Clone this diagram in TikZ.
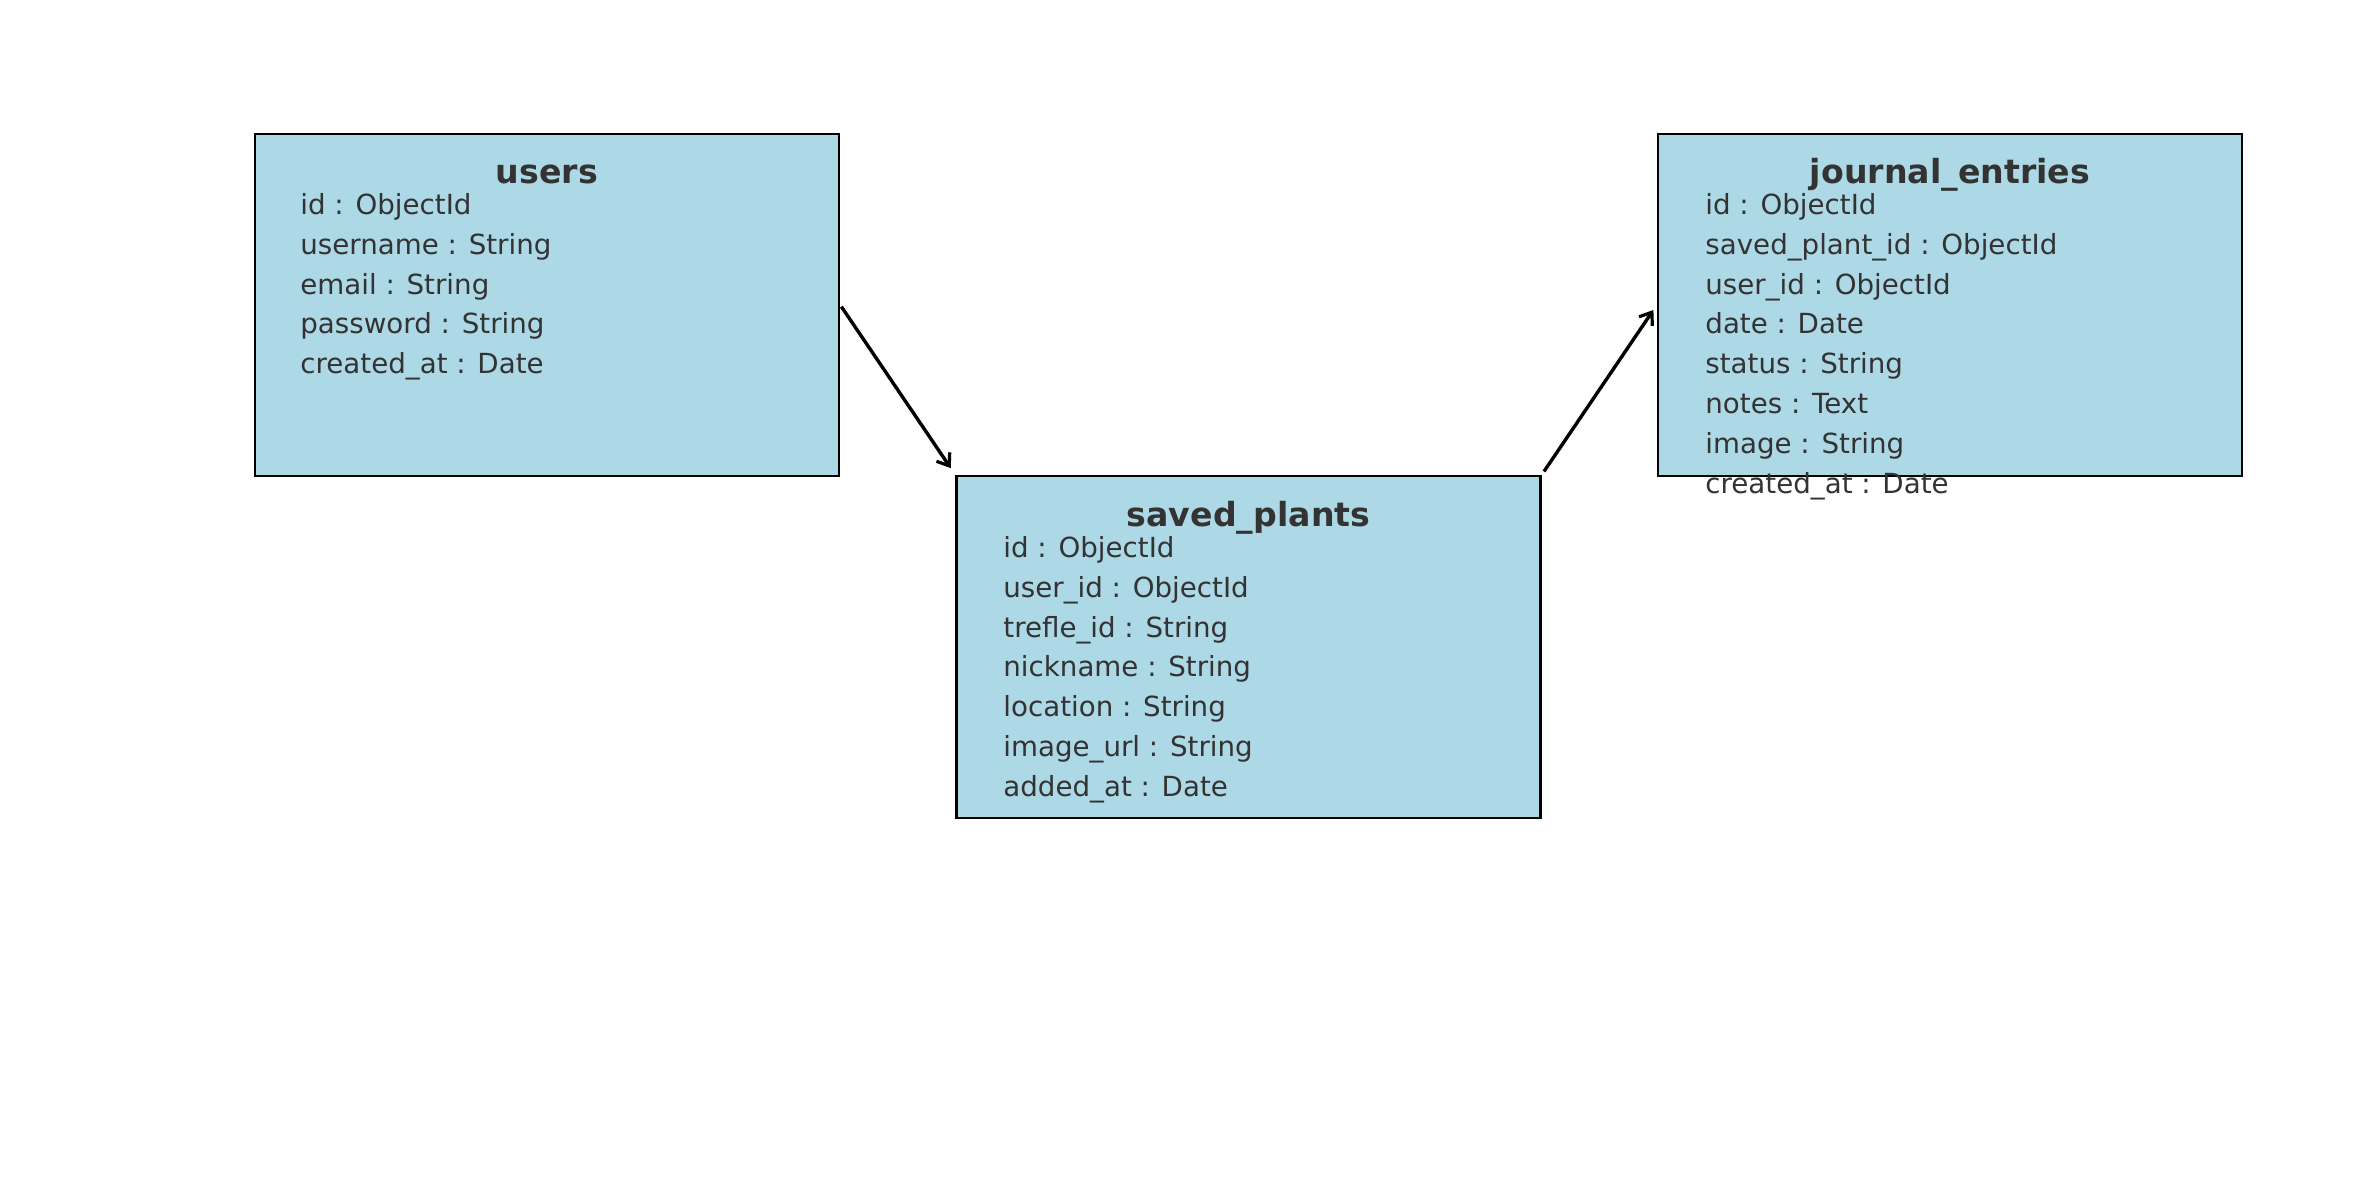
\documentclass[tikz,border=0pt]{standalone}
\usepackage{fontspec}
\setmainfont{DejaVu Sans}
\usetikzlibrary{arrows.meta}
\definecolor{tblfill}{HTML}{ADD8E6}
\definecolor{ink}{HTML}{333333}
\tikzset{
  tbl/.style={draw=black, line width=1.25pt, fill=tblfill, minimum width=292pt, minimum height=171pt, inner sep=0pt},
  tbltitle/.style={font=\fontsize{16.6}{20}\selectfont\bfseries, text=ink, inner sep=0pt, text height=0.76em, text depth=0.24em},
  field/.style={font=\fontsize{13.85}{16}\selectfont, text=ink, anchor=west, inner sep=0pt, text height=0.76em, text depth=0.24em},
  rel/.style={line width=1.7pt, -{Straight Barb[length=5.5pt,width=8pt,line width=1.6pt]}}
}
\begin{document}
\begin{tikzpicture}[x=0.5pt,y=-0.5pt]
  \useasboundingbox[fill=white] (0,0) rectangle (2379,1180);

  % tables
  \node[tbl] (users) at (547,305) {};
  \node[tbl] (saved) at (1248.5,647) {};
  \node[tbl] (journal) at (1950,305) {};

  % users
  \node[tbltitle] (users-t) at (547,178) {users};
  \foreach \f [count=\i from 0] in {id : ObjectId, username : String, email : String, password : String, created\_at : Date}
    \node[field] (users-\i) at (300,209+39.9*\i) {\f};

  % saved_plants
  \node[tbltitle] (saved-t) at (1248.5,521) {saved\_plants};
  \foreach \f [count=\i from 0] in {id : ObjectId, user\_id : ObjectId, trefle\_id : String, nickname : String, location : String, image\_url : String, added\_at : Date}
    \node[field] (saved-\i) at (1003,552+39.9*\i) {\f};

  % journal_entries
  \node[tbltitle] (journal-t) at (1950,178) {journal\_entries};
  \foreach \f [count=\i from 0] in {id : ObjectId, saved\_plant\_id : ObjectId, user\_id : ObjectId, date : Date, status : String, notes : Text, image : String, created\_at : Date}
    \node[field] (journal-\i) at (1705,209+39.9*\i) {\f};

  % relations
  \draw[rel, shorten <=1pt, shorten >=4pt] (users.east) -- (saved.north west);
  \draw[rel, shorten <=2pt, shorten >=3pt] (saved.north east) -- (journal.west);
\end{tikzpicture}
\end{document}
